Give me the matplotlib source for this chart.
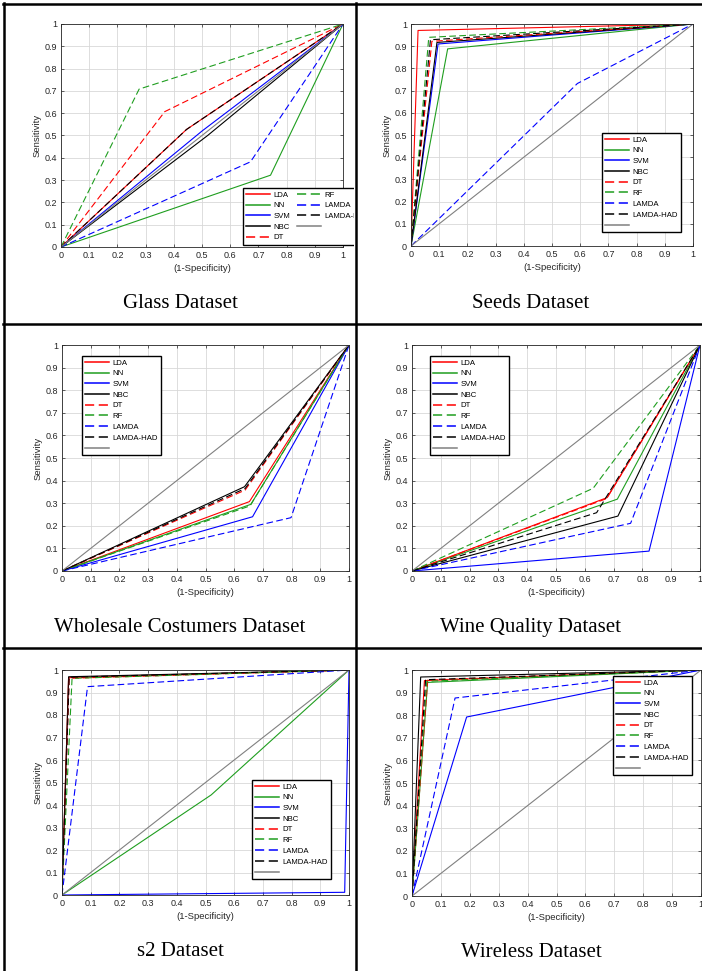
import matplotlib.pyplot as plt
from matplotlib.lines import Line2D
from matplotlib.transforms import Bbox, TransformedBbox

W, H = 702, 971

methods = ['LDA', 'NN', 'SVM', 'NBC', 'DT', 'RF', 'LAMDA', 'LAMDA-HAD']
chance = [0, 1]

# knee point of each ROC curve: (1-specificity, sensitivity)
glass_fpr = [0.445, 0.743, 0.50, 0.52, 0.368, 0.277, 0.672, 0.445]
glass_tpr = [0.527, 0.322, 0.52, 0.50, 0.607, 0.708, 0.382, 0.527]

seeds_fpr = [0.025, 0.130, 0.096, 0.092, 0.074, 0.063, 0.590, 0.069]
seeds_tpr = [0.971, 0.888, 0.910, 0.917, 0.922, 0.940, 0.732, 0.929]

whole_fpr = [0.653, 0.658, 0.664, 0.636, 0.638, 0.655, 0.798, 0.638]
whole_tpr = [0.307, 0.295, 0.240, 0.373, 0.358, 0.288, 0.236, 0.365]

wine_fpr = [0.678, 0.713, 0.823, 0.715, 0.675, 0.629, 0.759, 0.641]
wine_tpr = [0.325, 0.318, 0.088, 0.243, 0.320, 0.366, 0.211, 0.258]

s2_fpr = [0.023, 0.520, 0.985, 0.023, 0.025, 0.035, 0.089, 0.025]
s2_tpr = [0.966, 0.445, 0.012, 0.970, 0.963, 0.963, 0.926, 0.968]

wire_fpr = [0.043, 0.054, 0.189, 0.030, 0.054, 0.051, 0.149, 0.047]
wire_tpr = [0.953, 0.945, 0.792, 0.969, 0.955, 0.950, 0.876, 0.957]

colors = ['#ff0000', '#1f9e1f', '#0000ff', '#000000'] * 2
styles = ['-'] * 4 + [(0, (6, 3))] * 4

plt.rcParams['font.family'] = ['Liberation Sans', 'DejaVu Sans']
fig = plt.figure(figsize=(W / 100, H / 100), dpi=100)

# name, fpr, tpr, axes box (left, right, top, bottom px), legend (x, y px, ncol), caption (x, baseline px)
panels = [
    ('Glass Dataset', glass_fpr, glass_tpr, (61, 343, 24, 247), (243, 188, 2), (180, 308)),
    ('Seeds Dataset', seeds_fpr, seeds_tpr, (411, 693, 24, 246), (602, 133, 1), (531, 308)),
    ('Wholesale Costumers Dataset', whole_fpr, whole_tpr, (62, 349, 345, 571), (82, 356, 1), (180, 632)),
    ('Wine Quality Dataset', wine_fpr, wine_tpr, (412, 700, 345, 571), (430, 356, 1), (531, 632)),
    ('s2 Dataset', s2_fpr, s2_tpr, (62, 349, 670, 895), (252, 780, 1), (180, 956)),
    ('Wireless Dataset', wire_fpr, wire_tpr, (412, 701, 670, 896), (613, 676, 1), (531, 957)),
]

ticks = [i / 10 for i in range(11)]
tick_labels = ['0', '0.1', '0.2', '0.3', '0.4', '0.5', '0.6', '0.7', '0.8', '0.9', '1']

for name, fpr, tpr, box, lg, cap in panels:
    l, r, t, b = box
    ax = fig.add_axes([l / W, 1 - b / H, (r - l) / W, (b - t) / H])
    for i, m in enumerate(methods):
        ax.plot([0, fpr[i], 1], [0, tpr[i], 1], color=colors[i], ls=styles[i], lw=0.8, label=m)
    ax.plot(chance, chance, color='#808080', lw=0.8, label=' ')
    ax.set_xlim(0, 1)
    ax.set_ylim(0, 1)
    ax.set_xticks(ticks)
    ax.set_yticks(ticks)
    ax.set_xticklabels(tick_labels)
    ax.set_yticklabels(tick_labels)
    ax.grid(True, color='#d8d8d8', lw=0.6)
    ax.set_axisbelow(True)
    ax.tick_params(direction='in', length=2, width=0.5, labelsize=6.5, colors='#262626',
                   top=True, right=True, pad=3)
    for s in ax.spines.values():
        s.set_color('#262626')
        s.set_linewidth(0.6)
    ax.set_xlabel('(1-Specificity)', fontsize=6.8, color='#262626', labelpad=3)
    ax.set_ylabel('Sensitivity', fontsize=6.8, color='#262626', labelpad=2)

    lx, ly, ncol = lg
    leg = ax.legend(loc='upper left', bbox_to_anchor=(lx / W, 1 - ly / H),
                    bbox_transform=fig.transFigure, borderaxespad=0, ncol=ncol,
                    fontsize=5.6, frameon=True, fancybox=False, framealpha=1,
                    edgecolor='black', borderpad=0.4, labelspacing=0.42,
                    handlelength=3.1, handletextpad=0.4, columnspacing=0.9)
    leg.get_frame().set_linewidth(1.0)
    for h in leg.get_lines():
        h.set_linewidth(1.1)
    if ncol == 2:
        # the legend runs past the table cell and is cut there
        clip = TransformedBbox(Bbox.from_extents(0, 0, 354 / W, 1), fig.transFigure)
        for a in leg.findobj():
            a.set_clip_box(clip)
            a.set_clip_on(True)

    fig.text(cap[0] / W, 1 - cap[1] / H, name, ha='center', va='baseline',
             family='Liberation Serif', fontsize=15)

# table borders
border = [
    ((3, 702), (4, 4)),
    ((3, 702), (324, 324)),
    ((3, 702), (648, 648)),
    ((4, 4), (3, 971)),
    ((355.5, 355.5), (3, 971)),
]
for xs, ys in border:
    fig.add_artist(Line2D([x / W for x in xs], [1 - y / H for y in ys],
                          transform=fig.transFigure, color='black', lw=1.8))

fig.savefig('out.png', dpi=100)
